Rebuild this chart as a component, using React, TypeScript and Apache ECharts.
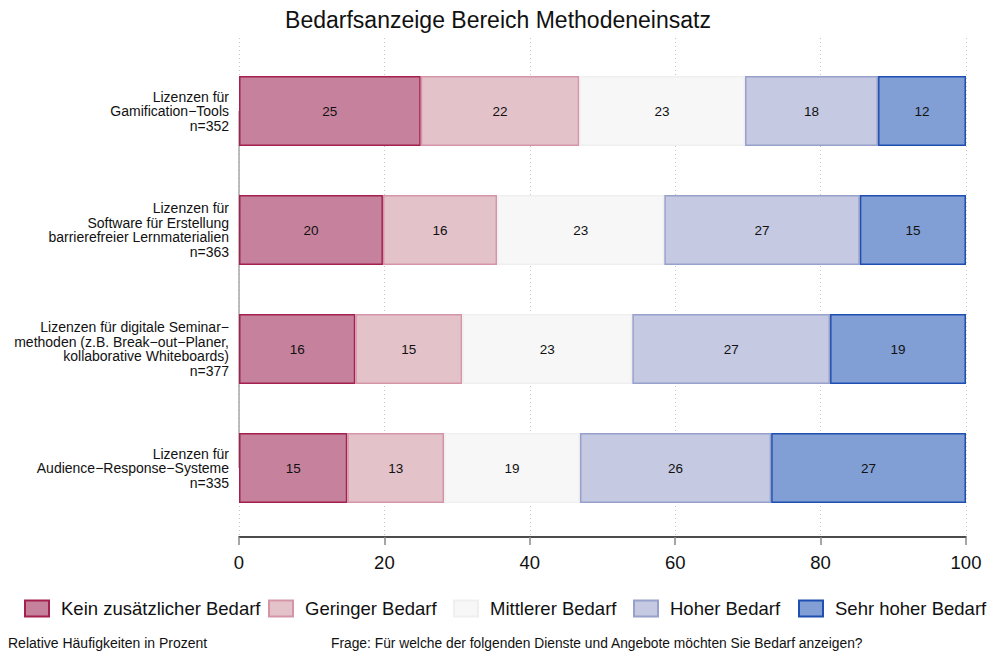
import React, { useEffect, useRef } from "react";
import * as echarts from "echarts";

const categories = [
  "Lizenzen für\nGamification−Tools\nn=352",
  "Lizenzen für\nSoftware für Erstellung\nbarrierefreier Lernmaterialien\nn=363",
  "Lizenzen für digitale Seminar−\nmethoden (z.B. Break−out−Planer,\nkollaborative Whiteboards)\nn=377",
  "Lizenzen für\nAudience−Response−Systeme\nn=335",
];

const seriesNames = [
  "Kein zusätzlicher Bedarf",
  "Geringer Bedarf",
  "Mittlerer Bedarf",
  "Hoher Bedarf",
  "Sehr hoher Bedarf",
];

const keinBedarf = [25.0, 19.8, 16.0, 14.9];
const geringerBedarf = [21.8, 15.7, 14.7, 13.3];
const mittlererBedarf = [22.8, 23.0, 23.4, 18.7];
const hoherBedarf = [18.3, 26.9, 27.2, 26.3];
const sehrHoherBedarf = [12.1, 14.6, 18.7, 26.8];

const xTicks = [0, 20, 40, 60, 80, 100];

const fills = ["#C6819C", "#E3C2CA", "#F7F7F7", "#C5C9E1", "#819FD4"];
const borders = ["#A3204F", "#D595A8", "#EFEFEF", "#98A0CC", "#1F4FB0"];
const legendLefts = [19, 263, 448, 628, 793];

const FONT = "'Liberation Sans', Arial, Helvetica, sans-serif";

export default function App() {
  const ref = useRef<HTMLDivElement>(null);

  useEffect(() => {
    document.body.style.margin = "0";
    if (!ref.current) return;
    const chart = echarts.init(ref.current, undefined, { renderer: "svg" });
    const values = [keinBedarf, geringerBedarf, mittlererBedarf, hoherBedarf, sehrHoherBedarf];

    const series: any[] = values.map((vals, i) => ({
      name: seriesNames[i],
      type: "bar",
      stack: "total",
      xAxisIndex: 0,
      yAxisIndex: 0,
      barWidth: 70,
      data: vals,
      itemStyle: { color: fills[i], borderColor: borders[i], borderWidth: 1.5 },
      label: {
        show: true,
        position: "inside",
        formatter: (p: any) => String(Math.round(p.value)),
        fontFamily: FONT,
        fontSize: 13.5,
        color: "#111111",
      },
      emphasis: { disabled: true },
      z: 3,
    }));

    series[0].markLine = {
      silent: true,
      symbol: "none",
      label: { show: false },
      lineStyle: { color: "#a8a8a8", width: 1.5, type: "solid" },
      z: 1,
      data: [[{ coord: [0, categories[0]] }, { coord: [0, categories[categories.length - 1]] }]],
    };

    const legends = seriesNames.map((name, i) => ({
      data: [name],
      left: legendLefts[i],
      top: 594,
      icon: "rect",
      itemWidth: 24,
      itemHeight: 16,
      selectedMode: false,
      textStyle: { fontFamily: FONT, fontSize: 18.5, color: "#111111", padding: [0, 0, 0, 7] },
    }));

    chart.setOption({
      animation: false,
      textStyle: { fontFamily: FONT },
      title: [
        {
          text: "Bedarfsanzeige Bereich Methodeneinsatz",
          left: 493,
          textAlign: "center",
          top: 3,
          textStyle: { fontFamily: FONT, fontSize: 23, fontWeight: "normal", color: "#111111" },
        },
        {
          text: "Relative Häufigkeiten in Prozent",
          left: 3,
          top: 631,
          textStyle: { fontFamily: FONT, fontSize: 14, fontWeight: "normal", color: "#111111" },
        },
        {
          text: "Frage: Für welche der folgenden Dienste und Angebote möchten Sie Bedarf anzeigen?",
          left: 326,
          top: 631,
          textStyle: { fontFamily: FONT, fontSize: 13.8, fontWeight: "normal", color: "#111111" },
        },
      ],
      legend: legends,
      grid: [
        { left: 239, right: 21, top: 51.5, bottom: 127.5 },
        { left: 239, right: 21, top: 38, bottom: 118 },
      ],
      xAxis: [
        { type: "value", gridIndex: 0, min: 0, max: 100, show: false },
        {
          type: "value",
          gridIndex: 1,
          min: xTicks[0],
          max: xTicks[xTicks.length - 1],
          interval: 20,
          offset: 4,
          axisLine: { show: true, lineStyle: { color: "#111111", width: 1.5 } },
          axisTick: { show: true, length: 8, lineStyle: { color: "#888888", width: 1.5 } },
          axisLabel: { fontFamily: FONT, fontSize: 18.5, color: "#111111", margin: 12 },
          splitLine: { show: true, lineStyle: { color: "#c8c8c8", type: [1, 3], width: 1 } },
        },
      ],
      yAxis: [
        {
          type: "category",
          gridIndex: 0,
          inverse: true,
          data: categories,
          axisLine: { show: false },
          axisTick: { show: false },
          axisLabel: {
            fontFamily: FONT,
            fontSize: 14,
            lineHeight: 14.5,
            color: "#111111",
            margin: 10,
            align: "right",
          },
        },
        { type: "value", gridIndex: 1, show: false },
      ],
      series,
    });

    return () => chart.dispose();
  }, []);

  return <div ref={ref} style={{ width: 987, height: 655 }} />;
}
